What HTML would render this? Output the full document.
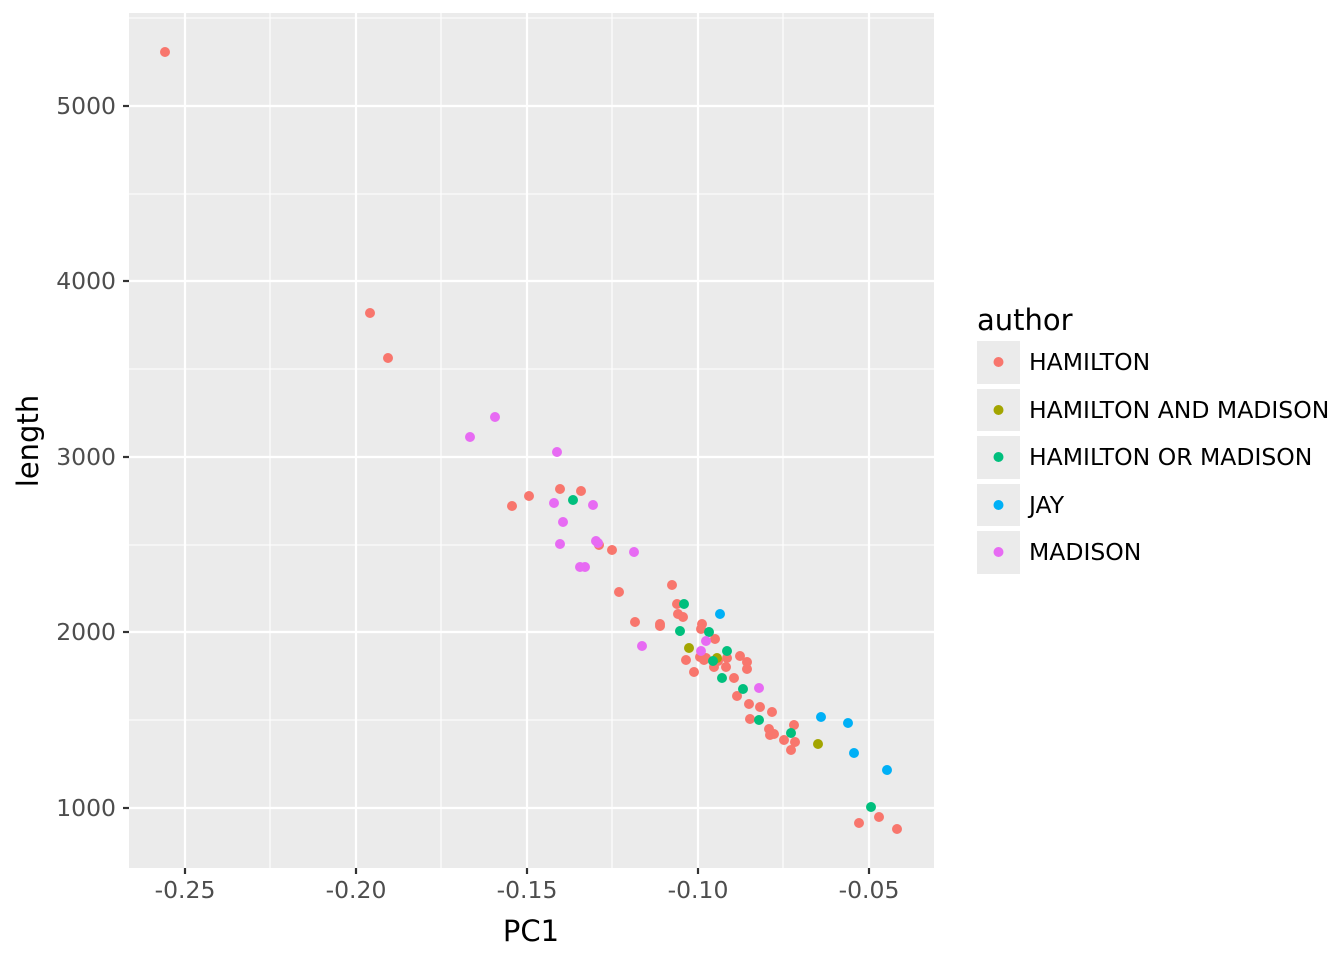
<!DOCTYPE html>
<html><head><meta charset="utf-8"><style>body{margin:0;background:#fff}svg{display:block}</style></head><body>
<svg width="1344" height="960" xmlns="http://www.w3.org/2000/svg" font-family="DejaVu Sans, Liberation Sans, sans-serif">
<rect x="129" y="13" width="805" height="855" fill="#EBEBEB"/>
<g stroke="#fff" stroke-width="1.1">
<line x1="129" x2="934" y1="18" y2="18"/><line x1="129" x2="934" y1="194" y2="194"/><line x1="129" x2="934" y1="369" y2="369"/><line x1="129" x2="934" y1="545" y2="545"/><line x1="129" x2="934" y1="720" y2="720"/>
<line y1="13" y2="868" x1="270" x2="270"/><line y1="13" y2="868" x1="441" x2="441"/><line y1="13" y2="868" x1="612" x2="612"/><line y1="13" y2="868" x1="783" x2="783"/>
</g>
<g stroke="#fff" stroke-width="2.2">
<line x1="129" x2="934" y1="106" y2="106"/><line x1="129" x2="934" y1="281" y2="281"/><line x1="129" x2="934" y1="457" y2="457"/><line x1="129" x2="934" y1="632" y2="632"/><line x1="129" x2="934" y1="808" y2="808"/>
<line y1="13" y2="868" x1="185" x2="185"/><line y1="13" y2="868" x1="356" x2="356"/><line y1="13" y2="868" x1="527" x2="527"/><line y1="13" y2="868" x1="698" x2="698"/><line y1="13" y2="868" x1="869" x2="869"/>
</g>
<g stroke="#333" stroke-width="2.2">
<line x1="123" x2="129" y1="106" y2="106"/><line x1="123" x2="129" y1="281" y2="281"/><line x1="123" x2="129" y1="457" y2="457"/><line x1="123" x2="129" y1="632" y2="632"/><line x1="123" x2="129" y1="808" y2="808"/>
<line y1="868" y2="874" x1="185" x2="185"/><line y1="868" y2="874" x1="356" x2="356"/><line y1="868" y2="874" x1="527" x2="527"/><line y1="868" y2="874" x1="698" x2="698"/><line y1="868" y2="874" x1="869" x2="869"/>
</g>
<g fill="#4D4D4D" font-size="23.5" text-anchor="end">
<text x="116" y="114">5000</text><text x="116" y="289">4000</text><text x="116" y="465">3000</text><text x="116" y="640">2000</text><text x="116" y="816">1000</text>
</g>
<g fill="#4D4D4D" font-size="23.5" text-anchor="middle">
<text x="185" y="898">-0.25</text><text x="356" y="898">-0.20</text><text x="527" y="898">-0.15</text><text x="698" y="898">-0.10</text><text x="869" y="898">-0.05</text>
</g>
<text x="531" y="941" font-size="29" text-anchor="middle">PC1</text>
<text transform="translate(38,441) rotate(-90)" font-size="29" text-anchor="middle">length</text>
<g fill="#F8766D">
<circle cx="165" cy="52" r="5"/><circle cx="370" cy="313" r="5"/><circle cx="388" cy="358" r="5"/><circle cx="512" cy="506" r="5"/><circle cx="529" cy="496" r="5"/><circle cx="560" cy="489" r="5"/><circle cx="581" cy="491" r="5"/><circle cx="599" cy="545" r="5"/><circle cx="612" cy="550" r="5"/><circle cx="619" cy="592" r="5"/><circle cx="635" cy="622" r="5"/><circle cx="660" cy="624" r="5"/><circle cx="660" cy="626" r="5"/><circle cx="672" cy="585" r="5"/><circle cx="677" cy="604" r="5"/><circle cx="678" cy="614" r="5"/><circle cx="683" cy="617" r="5"/><circle cx="686" cy="660" r="5"/><circle cx="694" cy="672" r="5"/><circle cx="702" cy="624" r="5"/><circle cx="701" cy="629" r="5"/><circle cx="715" cy="639" r="5"/><circle cx="706" cy="658" r="5"/><circle cx="714" cy="667" r="5"/><circle cx="718" cy="661" r="5"/><circle cx="726" cy="667" r="5"/><circle cx="727" cy="658" r="5"/><circle cx="734" cy="678" r="5"/><circle cx="740" cy="656" r="5"/><circle cx="737" cy="696" r="5"/><circle cx="747" cy="662" r="5"/><circle cx="747" cy="669" r="5"/><circle cx="749" cy="704" r="5"/><circle cx="750" cy="719" r="5"/><circle cx="760" cy="707" r="5"/><circle cx="772" cy="712" r="5"/><circle cx="770" cy="735" r="5"/><circle cx="769" cy="729" r="5"/><circle cx="774" cy="734" r="5"/><circle cx="784" cy="740" r="5"/><circle cx="794" cy="725" r="5"/><circle cx="795" cy="742" r="5"/><circle cx="791" cy="750" r="5"/><circle cx="859" cy="823" r="5"/><circle cx="879" cy="817" r="5"/><circle cx="897" cy="829" r="5"/><circle cx="704" cy="660" r="5"/><circle cx="700" cy="657" r="5"/><circle cx="716" cy="660" r="5"/>
</g>
<g fill="#A3A500"><circle cx="689" cy="648" r="5"/><circle cx="717" cy="658" r="5"/><circle cx="818" cy="744" r="5"/></g>
<g fill="#00BF7D"><circle cx="573" cy="500" r="5"/><circle cx="684" cy="604" r="5"/><circle cx="680" cy="631" r="5"/><circle cx="709" cy="632" r="5"/><circle cx="727" cy="651" r="5"/><circle cx="713" cy="661" r="5"/><circle cx="722" cy="678" r="5"/><circle cx="743" cy="689" r="5"/><circle cx="759" cy="720" r="5"/><circle cx="791" cy="733" r="5"/><circle cx="871" cy="807" r="5"/></g>
<g fill="#00B0F6"><circle cx="720" cy="614" r="5"/><circle cx="821" cy="717" r="5"/><circle cx="848" cy="723" r="5"/><circle cx="854" cy="753" r="5"/><circle cx="887" cy="770" r="5"/></g>
<g fill="#E76BF3"><circle cx="495" cy="417" r="5"/><circle cx="470" cy="437" r="5"/><circle cx="557" cy="452" r="5"/><circle cx="554" cy="503" r="5"/><circle cx="563" cy="522" r="5"/><circle cx="593" cy="505" r="5"/><circle cx="560" cy="544" r="5"/><circle cx="596" cy="541" r="5"/><circle cx="598" cy="543" r="5"/><circle cx="634" cy="552" r="5"/><circle cx="580" cy="567" r="5"/><circle cx="585" cy="567" r="5"/><circle cx="642" cy="646" r="5"/><circle cx="701" cy="651" r="5"/><circle cx="706" cy="641" r="5"/><circle cx="759" cy="688" r="5"/></g>
<text x="977" y="330" font-size="29">author</text>
<g fill="#EBEBEB"><rect x="977" y="341" width="43" height="43"/><rect x="977" y="389" width="43" height="42"/><rect x="977" y="436" width="43" height="43"/><rect x="977" y="484" width="43" height="42"/><rect x="977" y="531" width="43" height="43"/></g>
<circle cx="998.5" cy="362" r="5" fill="#F8766D"/><circle cx="998.5" cy="410" r="5" fill="#A3A500"/><circle cx="998.5" cy="457" r="5" fill="#00BF7D"/><circle cx="998.5" cy="505" r="5" fill="#00B0F6"/><circle cx="998.5" cy="552" r="5" fill="#E76BF3"/>
<g font-size="23.5" fill="#000">
<text x="1029" y="370">HAMILTON</text><text x="1029" y="418">HAMILTON AND MADISON</text><text x="1029" y="465">HAMILTON OR MADISON</text><text x="1029" y="513">JAY</text><text x="1029" y="560">MADISON</text>
</g>
</svg>
</body></html>
